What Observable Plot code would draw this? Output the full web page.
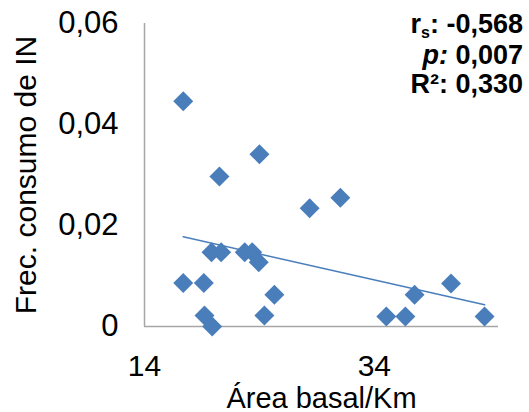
<!DOCTYPE html>
<html>
<head>
<meta charset="utf-8">
<script src="https://cdn.jsdelivr.net/npm/d3@7"></script>
<script src="https://cdn.jsdelivr.net/npm/@observablehq/plot@0.6"></script>
<style>
  html, body { margin: 0; padding: 0; background: #fff; }
  #chart { width: 529px; height: 412px; }
</style>
</head>
<body>
<div id="chart"></div>
<script>
// Data
const areaBasal = [17.37, 24.0, 20.52, 28.37, 31.04, 19.83, 20.67, 22.72, 23.37, 23.94, 17.37, 19.16, 25.30, 19.22, 24.43, 19.89, 35.04, 36.70, 37.50, 40.67, 43.59];
const frecConsumo = [0.0446, 0.0341, 0.0297, 0.0234, 0.0255, 0.0147, 0.0147, 0.0147, 0.0147, 0.0127, 0.0086, 0.0086, 0.0063, 0.0022, 0.0022, 0.0000, 0.0020, 0.0020, 0.0063, 0.0085, 0.0020];
const xTicks = [14, 34];
const yTicks = [0, 0.02, 0.04, 0.06];
const xLabel = "Área basal/Km";
const yLabel = "Frec. consumo de IN";
const statNames = ["r", "p:", "R\u00B2:"];
const statValues = ["-0,568", "0,007", "0,330"];

const data = areaBasal.map((x, i) => ({x, y: frecConsumo[i]}));
const blue = "#4a7ebb";
const axisGray = "#a6a6a6";
const fmtY = d => d === 0 ? "0" : d.toFixed(2).replace(".", ",");

const svg = Plot.plot({
  width: 529,
  height: 412,
  marginLeft: 144,
  marginRight: 31,
  marginTop: 23,
  marginBottom: 86,
  style: {fontFamily: "'Liberation Sans', Arial, sans-serif", fontSize: "30px", color: "#000", background: "#fff"},
  x: {domain: [14, 44.8]},
  y: {domain: [0, 0.06]},
  marks: [
    Plot.axisX({ticks: xTicks, tickSize: 0, tickPadding: 28, tickFormat: d => String(d), fontSize: 30,
      label: xLabel, labelAnchor: "center", labelArrow: "none", labelOffset: 81}),
    Plot.axisY({ticks: yTicks, tickSize: 0, tickPadding: 26, tickFormat: fmtY, fontSize: 31,
      label: yLabel, labelAnchor: "center", labelArrow: "none", labelOffset: 130}),
    Plot.ruleX([14], {stroke: axisGray, strokeWidth: 1.5}),
    Plot.ruleY([0], {stroke: axisGray, strokeWidth: 1.5}),
    Plot.linearRegressionY(data, {x: "x", y: "y", stroke: blue, strokeWidth: 1.5, ci: 0}),
    Plot.dot(data, {x: "x", y: "y", symbol: "diamond2", r: 9, fill: blue, stroke: "none"})
  ]
});

// axis label font sizes
d3.select(svg).selectAll("g[aria-label='x-axis label'] text").attr("font-size", 29);
d3.select(svg).selectAll("g[aria-label='y-axis label'] text").attr("font-size", 30);

document.getElementById("chart").appendChild(svg);

// Statistics annotation (top right)
const g = d3.select(svg).append("g")
  .attr("font-family", "'Liberation Sans', Arial, sans-serif")
  .attr("font-weight", "bold")
  .attr("font-size", 27)
  .attr("text-anchor", "end")
  .attr("fill", "#000");
const baselines = [33, 64, 93];
// line 1: r_s
const t1 = g.append("text").attr("x", 523).attr("y", baselines[0]);
t1.append("tspan").text(statNames[0]);
t1.append("tspan").attr("font-size", 16).attr("dy", 5).text("s");
t1.append("tspan").attr("dy", -5).text(": " + statValues[0]);
// line 2: p
const t2 = g.append("text").attr("x", 523).attr("y", baselines[1]);
t2.append("tspan").attr("font-style", "italic").text(statNames[1]);
t2.append("tspan").text(" " + statValues[1]);
// line 3: R²
const t3 = g.append("text").attr("x", 523).attr("y", baselines[2]);
t3.append("tspan").text(statNames[2] + " " + statValues[2]);
</script>
</body>
</html>
